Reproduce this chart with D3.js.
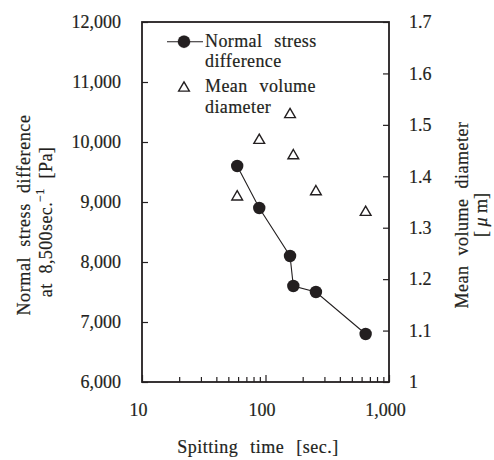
<!DOCTYPE html>
<html>
<head>
<meta charset="utf-8">
<script src="https://cdn.jsdelivr.net/npm/d3@7"></script>
<style>
  body { margin: 0; background: #fff; }
</style>
</head>
<body>
<div id="container"></div>
<script>
// spitting time [sec.] shared by both series
const spitTime = [59, 89, 158, 168, 256, 647];
// normal stress difference [Pa]
const stressDiff = [9600, 8900, 8100, 7600, 7500, 6800];
// mean volume diameter [um]
const meanDiam = [1.36, 1.47, 1.52, 1.44, 1.37, 1.33];

const xMajor = [10, 100, 1000];
const xMinor = [20, 30, 40, 50, 60, 70, 80, 90, 200, 300, 400, 500, 600, 700, 800, 900];
const yLeftTicks = [6000, 7000, 8000, 9000, 10000, 11000, 12000];
const yRightTicks = [1, 1.1, 1.2, 1.3, 1.4, 1.5, 1.6, 1.7];

const width = 494, height = 460;
const plot = { left: 142, right: 389, top: 22, bottom: 382 };
const ink = "#231f20";
const serif = "Liberation Serif";

const x = d3.scaleLog().domain([10, 1000]).range([plot.left, plot.right]);
const yL = d3.scaleLinear().domain([6000, 12000]).range([plot.bottom, plot.top]);
const yR = d3.scaleLinear().domain([1, 1.7]).range([plot.bottom, plot.top]);

const svg = d3.create("svg")
    .attr("width", width)
    .attr("height", height)
    .attr("font-family", serif);

svg.append("rect").attr("width", width).attr("height", height).attr("fill", "#fff");

// axes (ticks point inward)
function styleAxis(g) {
    g.attr("font-family", serif).attr("font-size", 18);
    g.select(".domain").remove();
    g.selectAll("line").attr("stroke", ink).attr("stroke-width", 1.2);
    g.selectAll("text").attr("fill", ink).attr("stroke", ink).attr("stroke-width", 0.2);
}

svg.append("g")
    .attr("transform", `translate(0,${plot.bottom})`)
    .call(d3.axisBottom(x).tickValues(xMinor).tickSize(-5).tickFormat(""))
    .call(styleAxis);

svg.append("g")
    .attr("transform", `translate(0,${plot.bottom})`)
    .call(d3.axisBottom(x).tickValues(xMajor).tickSize(-7).tickPadding(21).tickFormat(d3.format(",")))
    .call(styleAxis)
    .call(g => g.selectAll("text").attr("dx", -4));

svg.append("g")
    .attr("transform", `translate(${plot.left},0)`)
    .call(d3.axisLeft(yL).tickValues(yLeftTicks).tickSize(-6).tickPadding(21).tickFormat(d3.format(",")))
    .call(styleAxis);

svg.append("g")
    .attr("transform", `translate(${plot.right},0)`)
    .call(d3.axisRight(yR).tickValues(yRightTicks).tickSize(-6).tickPadding(20).tickFormat(d3.format("")))
    .call(styleAxis);

// frame
svg.append("rect")
    .attr("x", plot.left).attr("y", plot.top)
    .attr("width", plot.right - plot.left).attr("height", plot.bottom - plot.top)
    .attr("fill", "none").attr("stroke", ink).attr("stroke-width", 1.8);

const pts = spitTime.map((t, i) => ({ t, s: stressDiff[i], d: meanDiam[i] }));

// normal stress difference line + dots
svg.append("path")
    .datum(pts)
    .attr("fill", "none").attr("stroke", ink).attr("stroke-width", 1.1)
    .attr("d", d3.line().x(d => x(d.t)).y(d => yL(d.s)));

svg.append("g").selectAll("circle")
    .data(pts).join("circle")
    .attr("cx", d => x(d.t)).attr("cy", d => yL(d.s))
    .attr("r", 6.2).attr("fill", ink);

// mean volume diameter triangles
const tri = d3.symbol(d3.symbolTriangle, 50);
svg.append("g").selectAll("path")
    .data(pts).join("path")
    .attr("transform", d => `translate(${x(d.t)},${yR(d.d)})`)
    .attr("d", tri)
    .attr("fill", "#fff").attr("stroke", ink).attr("stroke-width", 1.4);

// legend
const leg = svg.append("g").attr("fill", ink).attr("font-size", 18)
    .attr("stroke", ink).attr("stroke-width", 0.2);
leg.append("line").attr("x1", 167).attr("x2", 203).attr("y1", 41.7).attr("y2", 41.7)
    .attr("stroke", ink).attr("stroke-width", 1.1);
leg.append("circle").attr("cx", 184).attr("cy", 41.7).attr("r", 6.2).attr("fill", ink);
leg.append("path").attr("transform", "translate(184,88)").attr("d", tri)
    .attr("fill", "#fff").attr("stroke", ink).attr("stroke-width", 1.4);
const legLines = [["Normal stress", 47], ["difference", 67], ["Mean volume", 92], ["diameter", 113]];
leg.selectAll("text").data(legLines).join("text")
    .attr("x", 205).attr("y", d => d[1])
    .attr("letter-spacing", 0.4).attr("word-spacing", 7)
    .text(d => d[0]);

// axis titles
svg.append("text")
    .attr("x", 258).attr("y", 453)
    .attr("text-anchor", "middle").attr("font-size", 18).attr("fill", ink)
    .attr("stroke", ink).attr("stroke-width", 0.2)
    .attr("letter-spacing", 0.5).attr("word-spacing", 7)
    .text("Spitting time [sec.]");

const lt = svg.append("g").attr("transform", "translate(30,215) rotate(-90)")
    .attr("fill", ink).attr("font-size", 18).attr("stroke", ink).attr("stroke-width", 0.2);
lt.append("text").attr("text-anchor", "middle")
    .attr("letter-spacing", 0.6).attr("word-spacing", 5)
    .text("Normal stress difference");
const lt2 = lt.append("text").attr("x", -7).attr("y", 22).attr("text-anchor", "middle")
    .attr("letter-spacing", 0.4).attr("word-spacing", 5);
lt2.append("tspan").text("at 8,500sec.");
lt2.append("tspan").attr("dy", -8).attr("font-size", 12).text("\u22121");
lt2.append("tspan").attr("dy", 8).text(" [Pa]");

const rt = svg.append("g").attr("transform", "translate(468,215) rotate(-90)")
    .attr("fill", ink).attr("font-size", 18).attr("stroke", ink).attr("stroke-width", 0.2);
rt.append("text").attr("text-anchor", "middle")
    .attr("letter-spacing", 0.5).attr("word-spacing", 5)
    .text("Mean volume diameter");
const rt2 = rt.append("text").attr("y", 19).attr("text-anchor", "middle");
rt2.append("tspan").text("[ ");
rt2.append("tspan").attr("font-style", "italic").text("\u03bc");
rt2.append("tspan").text(" m]");

document.getElementById("container").append(svg.node());
</script>
</body>
</html>
